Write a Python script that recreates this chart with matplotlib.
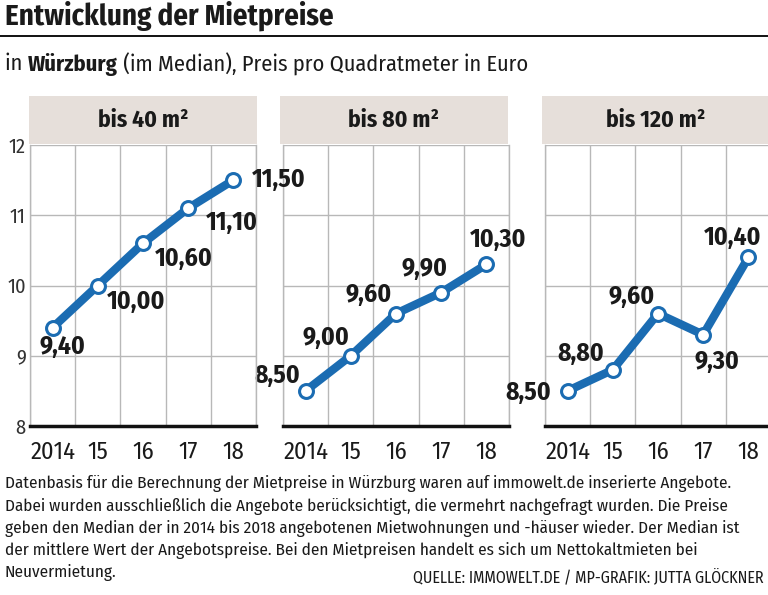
import matplotlib
matplotlib.use('Agg')
import matplotlib.pyplot as plt
from matplotlib import font_manager as fm
from matplotlib.patches import Rectangle

# ---------------- data ----------------
years = ['2014', '15', '16', '17', '18']
panel_titles = ['bis 40 m²', 'bis 80 m²', 'bis 120 m²']
prices_40 = [9.40, 10.00, 10.60, 11.10, 11.50]
prices_80 = [8.50, 9.00, 9.60, 9.90, 10.30]
prices_120 = [8.50, 8.80, 9.60, 9.30, 10.40]
y_ticks = [8, 9, 10, 11, 12]

title = 'Entwicklung der Mietpreise'
sub_parts = [('in ', 'normal'), ('Würzburg', 'bold'),
             (' (im Median), Preis pro Quadratmeter in Euro', 'normal')]
note_lines = [
    'Datenbasis für die Berechnung der Mietpreise in Würzburg waren auf immowelt.de inserierte Angebote.',
    'Dabei wurden ausschließlich die Angebote berücksichtigt, die vermehrt nachgefragt wurden. Die Preise',
    'geben den Median der in 2014 bis 2018 angebotenen Mietwohnungen und -häuser wieder. Der Median ist',
    'der mittlere Wert der Angebotspreise. Bei den Mietpreisen handelt es sich um Nettokaltmieten bei',
    'Neuvermietung.',
]
source = 'QUELLE: IMMOWELT.DE / MP-GRAFIK: JUTTA GLÖCKNER'

# ---------------- style ----------------
names = {f.name for f in fm.fontManager.ttflist}
FONT = 'Liberation Sans'
for cand in ['Fira Sans Condensed', 'PT Sans Narrow', 'Asap Condensed',
             'Roboto Condensed', 'Open Sans Condensed', 'Barlow Semi Condensed',
             'Archivo Narrow']:
    if cand in names:
        FONT = cand
        break
BLUE = '#1b6cb2'
HEAD_BG = '#e6dfda'
GRID = '#b8b8b8'
TXT = '#1a1a1a'

# label offsets (pixels, centre of label relative to point; +y = up)
label_offsets = [
    [(10, -19), (38, -16), (41, -15), (44, -15), (45, 0)],
    [(-28, 15), (-25, 18), (-27, 19), (-17, 24), (12, 25)],
    [(-39, -2), (-32, 16), (-26, 17), (14, -27), (-16, 20)],
]
panel_z = [5, 3, 4]

W, H = 768, 595
fig = plt.figure(figsize=(W / 100, H / 100), dpi=100)
fig.patch.set_facecolor('white')
fig.canvas.draw()
R = fig.canvas.get_renderer()


def fx(x):
    return x / W


def fy(y):
    return 1 - y / H


def fit_size(txt, weight, target_w, base=12.0):
    t = fig.text(0, 0, txt, fontfamily=FONT, fontweight=weight, fontsize=base)
    w = t.get_window_extent(renderer=R).width
    t.remove()
    return base * target_w / w


# title
fig.text(fx(5), fy(16), title, fontfamily=FONT, fontweight='bold',
         fontsize=fit_size(title, 'bold', 328), color=TXT, ha='left', va='center')
fig.add_artist(plt.Line2D([0, 1], [fy(36), fy(36)], color='#111111', lw=1.4))

# subtitle with mixed weight
full_w = 0
base = 12.0
for txt, wt in sub_parts:
    t = fig.text(0, 0, txt.replace(' ', '\u00a0'), fontfamily=FONT, fontweight=wt, fontsize=base)
    full_w += t.get_window_extent(renderer=R).width
    t.remove()
sub_size = base * 525 / full_w
xcur = 5
for txt, wt in sub_parts:
    t = fig.text(fx(xcur), fy(64), txt.replace(' ', '\u00a0'), fontfamily=FONT, fontweight=wt,
                 fontsize=sub_size, color=TXT, ha='left', va='center')
    xcur += t.get_window_extent(renderer=R).width

panels = [prices_40, prices_80, prices_120]
lefts = [30, 283, 545]
head_lefts = [29, 280, 542]
pw = 226
top_px, bot_px = 145, 426

tick_size = fit_size('2014', 'normal', 45)
ytick_size = fit_size('12', 'normal', 17)
lab_size = fit_size('11,10', 'bold', 52)
head_size = fit_size(panel_titles[0], 'bold', 90)

for i, (vals, lx, hx) in enumerate(zip(panels, lefts, head_lefts)):
    ax = fig.add_axes([fx(lx), fy(bot_px), pw / W, (bot_px - top_px) / H])
    ax.set_zorder(panel_z[i])
    ax.patch.set_alpha(0)
    xs = list(range(len(years)))
    ax.set_xlim(-0.5, len(years) - 0.5)
    ax.set_ylim(y_ticks[0], y_ticks[-1])
    ax.set_xticks(xs)
    ax.set_xticklabels(years, fontfamily=FONT, fontsize=tick_size, color=TXT)
    ax.set_xticks([x - 0.5 for x in xs] + [len(years) - 0.5], minor=True)
    ax.set_yticks(y_ticks)
    if i == 0:
        ax.set_yticklabels([str(v) for v in y_ticks], fontfamily=FONT,
                           fontsize=ytick_size, color='#333333')
    else:
        ax.set_yticklabels([])
    ax.tick_params(axis='both', which='both', length=0)
    ax.tick_params(axis='x', pad=10.5)
    ax.tick_params(axis='y', pad=3)
    ax.grid(True, axis='x', which='minor', color=GRID, lw=1)
    ax.grid(True, axis='y', which='major', color=GRID, lw=1)
    ax.grid(False, axis='x', which='major')
    ax.spines['top'].set_visible(False)
    for s in ['left', 'right']:
        ax.spines[s].set_color(GRID)
        ax.spines[s].set_linewidth(1)
    ax.spines['bottom'].set_color('#111111')
    ax.spines['bottom'].set_linewidth(2.5)
    ax.set_axisbelow(True)

    ax.plot(xs, vals, color=BLUE, lw=6, solid_capstyle='butt', zorder=3)
    ax.plot(xs, vals, ls='none', marker='o', ms=10, mfc='white', mec=BLUE,
            mew=2.2, zorder=4, clip_on=False)
    for x, v, (dx, dy) in zip(xs, vals, label_offsets[i]):
        ax.annotate(f'{v:.2f}'.replace('.', ','), (x, v), xytext=(dx, dy),
                    textcoords='offset pixels', ha='center', va='center',
                    fontfamily=FONT, fontweight='bold', fontsize=lab_size,
                    color=TXT, annotation_clip=False, zorder=5)

    # header box
    fig.add_artist(Rectangle((fx(hx), fy(144)), 228 / W, 48 / H,
                             transform=fig.transFigure, facecolor=HEAD_BG,
                             edgecolor='none'))
    fig.text(fx(hx + 114), fy(120), panel_titles[i], fontfamily=FONT,
             fontweight='bold', fontsize=head_size, color=TXT, ha='center',
             va='center')

# note text
note_size = fit_size(note_lines[0], 'normal', 730)
for k, line in enumerate(note_lines):
    fig.text(fx(5), fy(484 + 22.2 * k), line, fontfamily=FONT,
             fontsize=note_size, color=TXT, ha='left', va='center')

fig.text(fx(764), fy(577), source, fontfamily=FONT,
         fontsize=fit_size(source, 'normal', 350), color=TXT, ha='right', va='center')

fig.savefig('out.png', dpi=100)
